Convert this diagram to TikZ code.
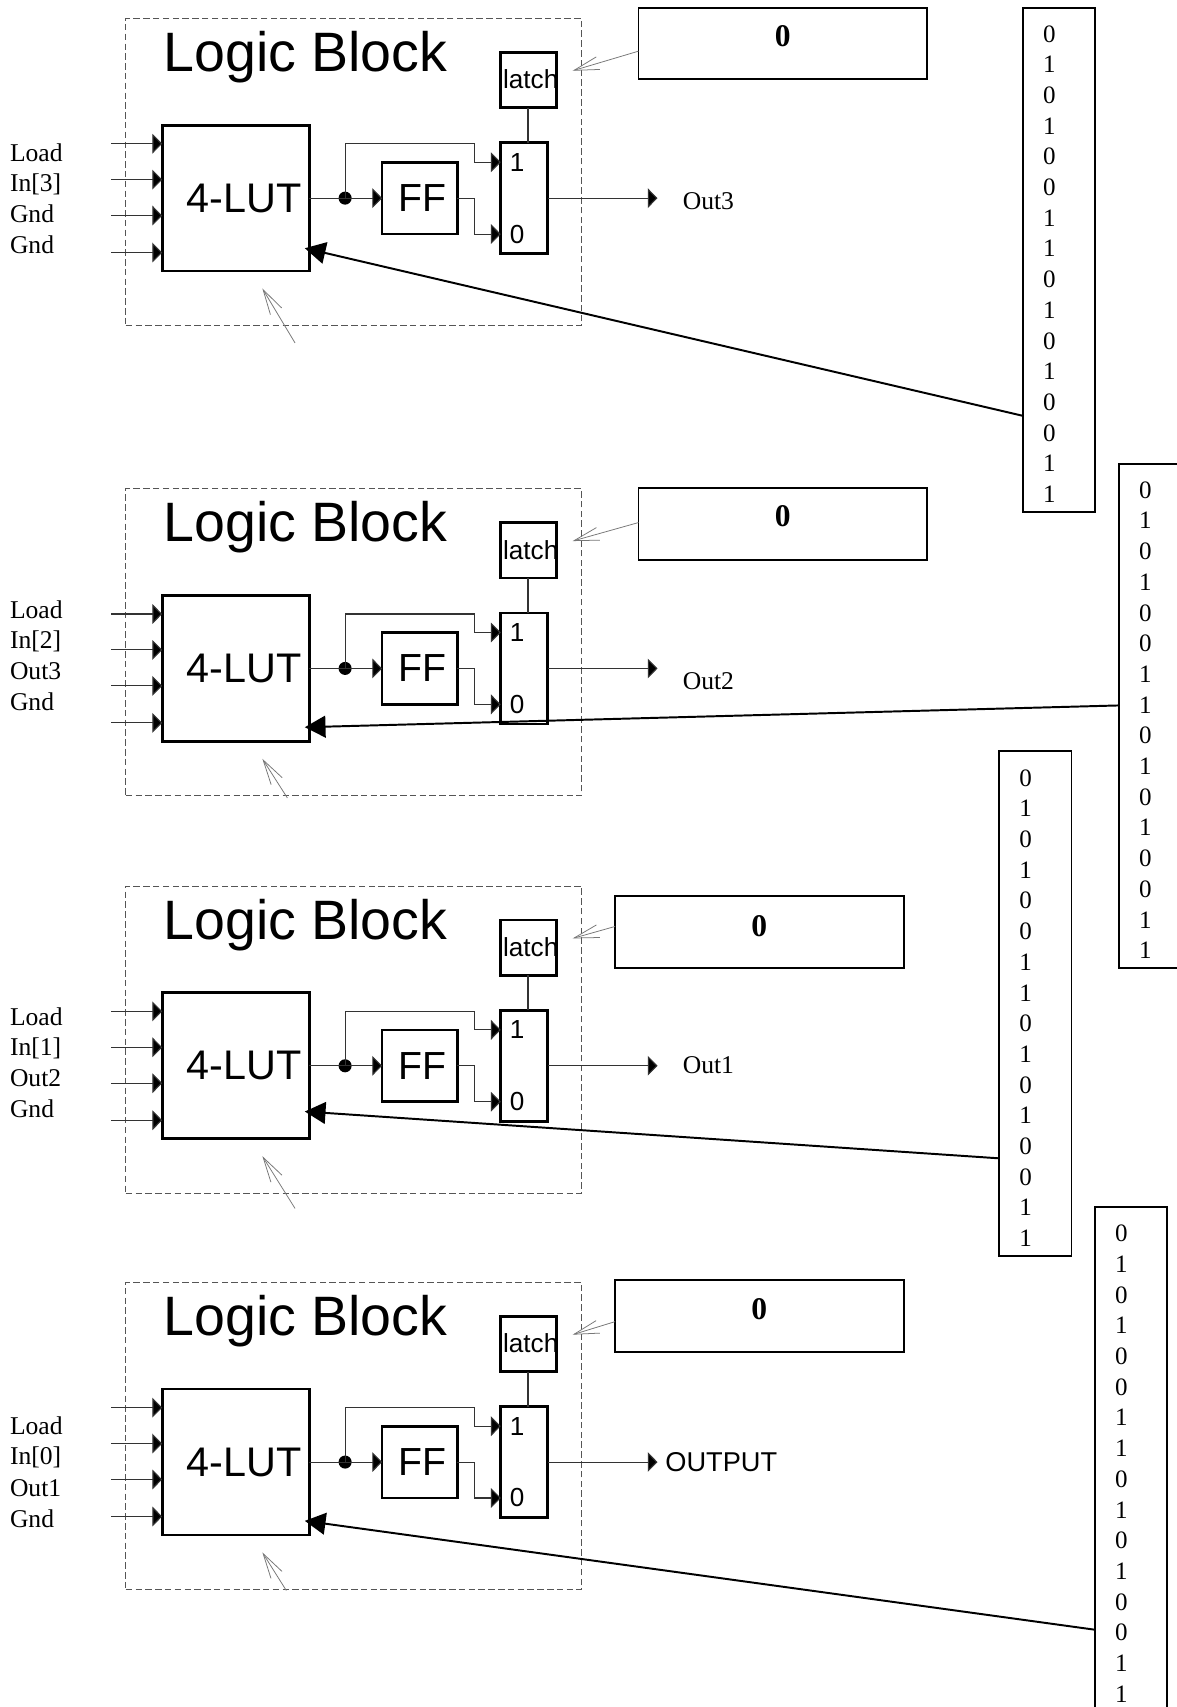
\documentclass[tikz,border=0pt]{standalone}
\usepackage{fontspec}
\setmainfont{Liberation Serif}
\newfontfamily\arialf{Liberation Sans}
\usetikzlibrary{arrows.meta}
\definecolor{wirec}{HTML}{333333}
\definecolor{dashc}{HTML}{555555}
\definecolor{thinc}{HTML}{777777}
\tikzset{
  x=1pt,y=-1pt,
  boxthick/.style={draw=black,line width=2.5pt,inner sep=0pt,outer sep=0pt,fill=none},
  boxmid/.style={draw=black,line width=1.8pt,inner sep=0pt,outer sep=0pt},
  dashbox/.style={draw=dashc,line width=1pt,dash pattern=on 6pt off 3pt},
  wire/.style={draw=wirec,line width=1pt},
  wirearrow/.style={wire,-{Triangle[length=9pt,width=18pt,fill=black]}},
  bigarrow/.style={draw=black,line width=1.8pt,-{Triangle[length=19pt,width=20pt,fill=black]}},
  graybarb/.style={draw=thinc,line width=.7pt,-{Straight Barb[length=23pt,width=12pt,line width=.7pt]}},
  bigtitle/.style={font=\arialf\fontsize{51}{51}\selectfont,inner sep=0pt},
  luttext/.style={font=\arialf\fontsize{38}{38}\selectfont,inner sep=0pt},
  fftext/.style={font=\arialf\fontsize{36}{36}\selectfont,inner sep=0pt},
  smalltext/.style={font=\arialf\fontsize{24}{24}\selectfont,inner sep=0pt},
  serif/.style={font=\fontsize{23.5}{23.5}\selectfont,inner sep=0pt},
  boldzero/.style={font=\bfseries\fontsize{29}{29}\selectfont,inner sep=0pt},
  bitcol/.style={font=\fontsize{23}{28.2}\selectfont,inner sep=0pt,align=center},
}
\begin{document}
\begin{tikzpicture}
\useasboundingbox[fill=white] (0,0) rectangle (1081,1568);
\foreach \i/\o/\bx/\by/\bz/\ltb/\ltc/\lo/\sx/\sy/\stx/\sty in {
 1/0/719/40/33.5/{In[3]}/Gnd/140/271/315/586/47,
 2/432/719/481/474.5/{In[2]}/Out3/128/264/301/586/480,
 3/797/697.5/856/850.5/{In[1]}/Out2/137/271/313/564/851,
 4/1161/697.5/1209/1202.5/{In[0]}/Out1/149/263/300/564/1214} {
  % outer dashed block
  \node[dashbox,minimum width=419pt,minimum height=282pt,inner sep=0pt,outer sep=0pt] (block\i) at (325,\o+158) {};
  \node[bigtitle] (title\i) at (280.5,\o+52.5) {Logic Block};
  % parts
  \node[boxthick,minimum width=135pt,minimum height=134pt] (lut\i) at (216.5,\o+182) {};
  \node[luttext] (luttxt\i) at (224,\o+182) {4-LUT};
  \node[boxthick,minimum width=69pt,minimum height=66pt] (ff\i) at (385.5,\o+182) {};
  \node[fftext] (fftxt\i) at (388,\o+182) {FF};
  \node[boxthick,minimum width=51pt,minimum height=51pt] (latch\i) at (485.5,\o+73.5) {};
  \node[smalltext] (latchtxt\i) at (487.5,\o+73) {latch};
  \node[boxthick,minimum width=43pt,minimum height=102pt] (mux\i) at (481.5,\o+182) {};
  \node[smalltext] (one\i) at (475,\o+149) {1};
  \node[smalltext] (zero\i) at (475,\o+215) {0};
  % internal wiring
  \coordinate (j\i) at (317,\o+182);
  \coordinate (top\i) at (317,\o+132);
  \coordinate (p1\i) at (436,\o+132);
  \coordinate (p2\i) at (436,\o+149);
  \coordinate (m1\i) at (460,\o+149);
  \coordinate (p3\i) at (436,\o+182);
  \coordinate (p4\i) at (436,\o+215);
  \coordinate (m0\i) at (460,\o+215);
  \fill[black] (j\i) circle (6pt);
  \draw[wire] (lut\i.east) -- (j\i);
  \draw[wirearrow] (j\i) -- (ff\i.west);
  \draw[wirearrow] (j\i) -- (top\i) -- (p1\i) -- (p2\i) -- (m1\i);
  \draw[wirearrow] (ff\i.east) -- (p3\i) -- (p4\i) -- (m0\i);
  \coordinate (lb\i) at (485,\o+99);
  \coordinate (mt\i) at (485,\o+131);
  \draw[wire] (lb\i) -- (mt\i);
  % input wires
  \foreach \y/\k in {132/a,165/b,198/c,232/d} {
    \coordinate (in\i\k) at (102,\o+\y);
    \coordinate (pin\i\k) at (149,\o+\y);
    \draw[wirearrow] (in\i\k) -- (pin\i\k);
  }
  \node[serif,anchor=west] (l1\i) at (9,\o+\lo) {Load};
  \node[serif,anchor=west] (l2\i) at (9,\o+\lo+29) {\ltb};
  \node[serif,anchor=west] (l3\i) at (9,\o+\lo+56.6) {\ltc};
  \node[serif,anchor=west] (l4\i) at (9,\o+\lo+84.9) {Gnd};
  % output
  \coordinate (o\i) at (604,\o+182);
  \draw[wirearrow] (mux\i.east) -- (o\i);
  % grey arrows
  \coordinate (barbtail\i) at (\sx,\o+\sy);
  \coordinate (barbtip\i) at (241,\o+265);
  \draw[graybarb] (barbtail\i) -- (barbtip\i);
  \node[boxmid,minimum width=265pt,minimum height=66pt] (zb\i) at (\bx,\by) {};
  \node[boldzero] (zt\i) at (\bx,\bz) {0};
  \coordinate (ltip\i) at (526,\o+65);
  \coordinate (ltail\i) at (zb\i.west |- {0,\sty});
  \draw[graybarb] (ltail\i) -- (ltip\i);
}
% output labels
\node[serif,anchor=west] (out3) at (627,184.5) {Out3};
\node[serif,anchor=west] (out2) at (627,625.5) {Out2};
\node[serif,anchor=west] (out1) at (627,978.5) {Out1};
\node[font=\arialf\fontsize{25}{25}\selectfont,inner sep=0pt,anchor=west] (outp) at (611,1343) {OUTPUT};
% bit columns
\newcommand{\bitstack}{0\\1\\0\\1\\0\\0\\1\\1\\0\\1\\0\\1\\0\\0\\1\\1}
\node[boxmid,minimum width=66.5pt,minimum height=463pt] (bits1) at (973,238.5) {};
\node[bitcol] (btxt1) at (964,242.5) {\bitstack};
\node[boxmid,minimum width=63pt,minimum height=463pt] (bits2) at (1059,657.5) {};
\node[bitcol] (btxt2) at (1052,661.5) {\bitstack};
\node[boxmid,minimum width=66.5pt,minimum height=464pt] (bits3) at (951,922) {};
\node[bitcol] (btxt3) at (942,926) {\bitstack};
\node[boxmid,minimum width=66.5pt,minimum height=463pt] (bits4) at (1039,1340.5) {};
\node[bitcol] (btxt4) at (1030,1344.5) {\bitstack};
% thick arrows
\coordinate (tap1) at (bits1.west |- {0,382});
\coordinate (tap2) at (bits2.west |- {0,648});
\coordinate (tap3) at (bits3.west |- {0,1064});
\coordinate (tap4) at (bits4.west |- {0,1497});
\coordinate (tip1) at (280,228);
\coordinate (tip2) at (280,668);
\coordinate (tip3) at (280,1021);
\coordinate (tip4) at (280,1397);
\foreach \i in {1,2,3,4} { \draw[bigarrow] (tap\i) -- (tip\i); }
\end{tikzpicture}
\end{document}
